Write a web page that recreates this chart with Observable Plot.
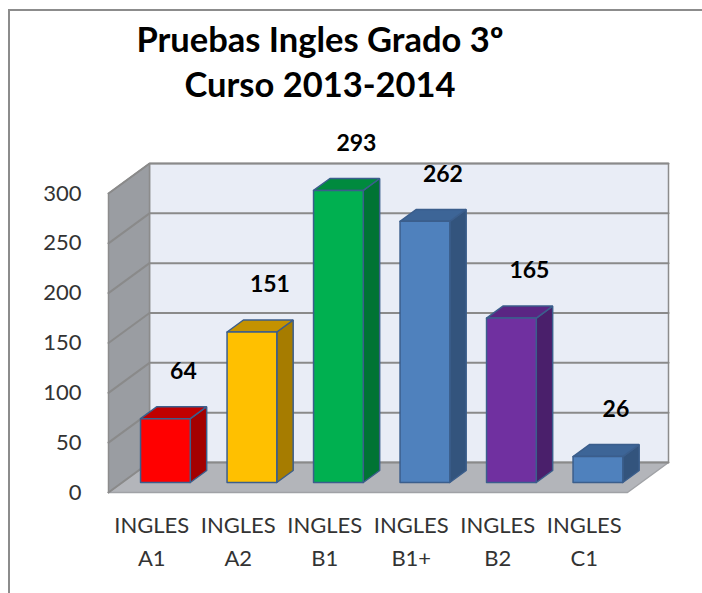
<!DOCTYPE html>
<html>
<head>
<meta charset="utf-8">
<script src="https://cdn.jsdelivr.net/npm/d3@7"></script>
<script src="https://cdn.jsdelivr.net/npm/@observablehq/plot@0.6"></script>
<style>
  html, body { margin: 0; padding: 0; overflow: hidden; background: #fff; width: 702px; height: 593px; }
  #frame { position: absolute; left: 8px; top: 9px; width: 760px; height: 700px; border: 2px solid #8c8c8c; box-sizing: border-box; }
  #title { position: relative; height: 110px; box-sizing: border-box; padding-top: 16px; width: 640px;
           text-align: center; font-family: Lato, sans-serif; font-weight: bold; font-size: 34.5px; line-height: 45px; color: #000; }
  #chart { position: relative; }
</style>
</head>
<body>
<div id="frame"></div>
<div id="title">Pruebas Ingles Grado 3º<br>Curso 2013-2014</div>
<div id="chart"></div>
<script>
// ---- data ----
const levels = ["A1", "A2", "B1", "B1+", "B2", "C1"];
const values = [64, 151, 293, 262, 165, 26];
const yTicks = [0, 50, 100, 150, 200, 250, 300];
// ---- styles ----
const frontColors = ["#ff0000", "#ffc000", "#00b050", "#4f81bd", "#7030a0", "#4f81bd"];
const sideColors  = ["#a40000", "#a67c00", "#007434", "#33547d", "#4a1f6b", "#33547d"];
const topColors   = ["#c00000", "#c49200", "#008a3e", "#3d6597", "#5a2683", "#3d6597"];

// oblique depth projection in data units (full depth of the box)
const DX = 0.474;  // x units per full depth
const DY = 30.1;   // y units per full depth
const X0 = 0, X1 = 6, YMAX = 300;
const bf = 1 / 3, bb = 0.733;      // bar front / back depth
const bw = 0.575;                   // bar width (x units)

function proj([x, v, d]) { return {x: x + d * DX, y: v + d * DY}; }
function poly(list, id, pts, fill, stroke) {
  pts.concat([pts[0]]).forEach(p => list.push({id, ...proj(p), fill, stroke}));
}

// walls
const walls = [];
poly(walls, "back", [[X0, 0, 1], [X1, 0, 1], [X1, YMAX, 1], [X0, YMAX, 1]], "#e9edf6", "#8c8c8c");
poly(walls, "left", [[X0, 0, 0], [X0, 0, 1], [X0, YMAX, 1], [X0, YMAX, 0]], "#9a9da2", "#8c8c8c");
poly(walls, "floor", [[X0, 0, 0], [X1, 0, 0], [X1, 0, 1], [X0, 0, 1]], "#b3b5ba", "#a0a2a6");

// gridlines
const grid = [];
yTicks.forEach(t => {
  [[X0, t, 0], [X0, t, 1], [X1, t, 1]].forEach(p => grid.push({id: t, ...proj(p)}));
});

// bars
const bars = [];
values.forEach((v, i) => {
  const l = i + 0.5 - bw / 2, r = i + 0.5 + bw / 2;
  poly(bars, `s${i}`, [[r, 0, bf], [r, 0, bb], [r, v, bb], [r, v, bf]], sideColors[i], "#3b5e8c");
  poly(bars, `t${i}`, [[l, v, bf], [r, v, bf], [r, v, bb], [l, v, bb]], topColors[i], "#3b5e8c");
  poly(bars, `f${i}`, [[l, 0, bf], [r, 0, bf], [r, v, bf], [l, v, bf]], frontColors[i], "#3b5e8c");
});

const labels = values.map((v, i) => ({...proj([i + 0.5, v, bf]), v}));
const cats = levels.map((c, i) => ({x: i + 0.5, y: 0, t: "INGLES\n" + c}));

const chart = Plot.plot({
  width: 702,
  height: 483,
  marginLeft: 108,
  marginRight: 75,
  marginTop: 83,
  marginBottom: 101,
  x: {domain: [0, 6], axis: null, label: null},
  y: {domain: [0, 300], label: null},
  color: {type: "identity"},
  style: {fontFamily: "Lato, sans-serif", fontSize: "22px", color: "#333", background: "transparent"},
  marks: [
    Plot.line(walls, {x: "x", y: "y", z: "id", fill: "fill", stroke: "stroke", strokeWidth: 1.5, strokeLinejoin: "miter"}),
    Plot.line(grid, {x: "x", y: "y", z: "id", stroke: "#8a8a8a", strokeWidth: 2, strokeLinejoin: "miter"}),
    Plot.line(bars, {x: "x", y: "y", z: "id", fill: "fill", stroke: "stroke", strokeWidth: 1.5, strokeLinejoin: "miter"}),
    Plot.axisY({ticks: yTicks, tickSize: 0, tickPadding: 27, label: null, fontSize: 22, fontWeight: "normal", fill: "#333"}),
    Plot.text(labels, {x: "x", y: "y", text: d => String(d.v), dx: 18, dy: -47, fontSize: 23, fontWeight: "bold", fill: "#000"}),
    Plot.text(cats, {x: "x", y: "y", text: "t", lineAnchor: "top", lineHeight: 1.5, dy: 17, fontSize: 22, fill: "#333"})
  ]
});
document.getElementById("chart").appendChild(chart);
</script>
</body>
</html>
